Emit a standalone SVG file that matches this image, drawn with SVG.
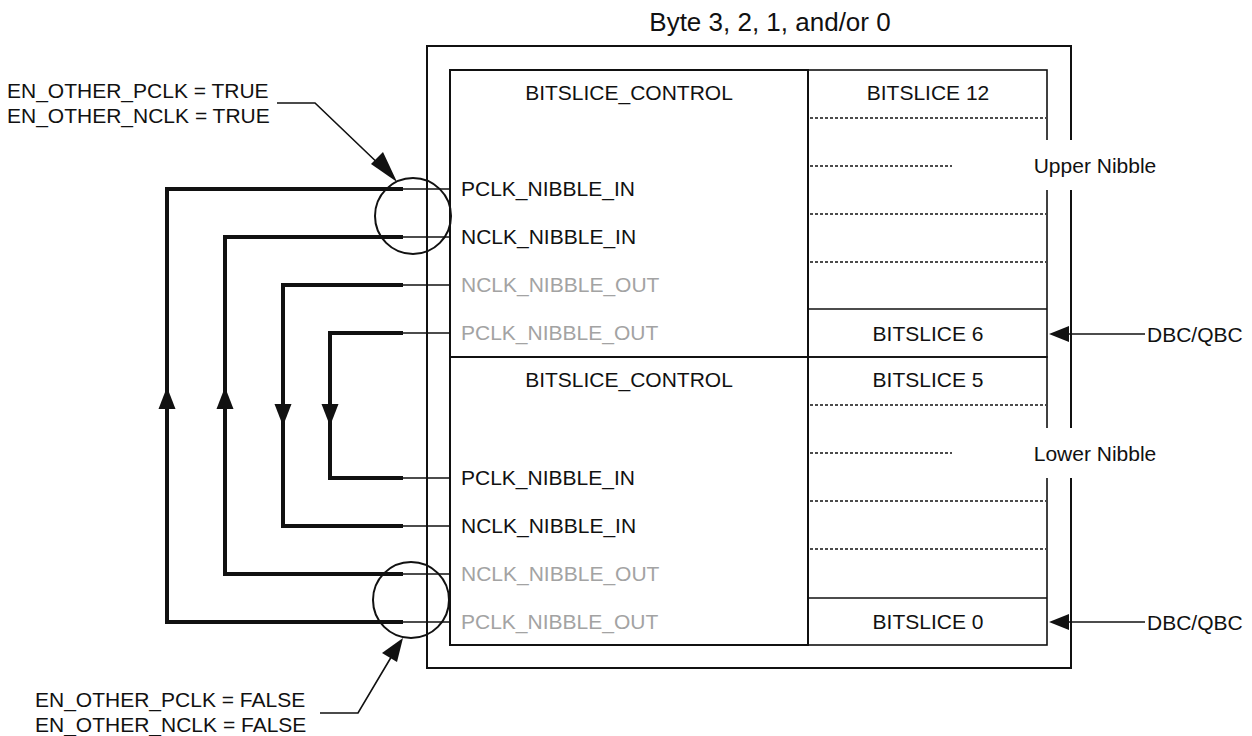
<svg xmlns="http://www.w3.org/2000/svg" width="1252" height="736" viewBox="0 0 1252 736">
<style>
  text { font-family: "Liberation Sans", Arial, sans-serif; font-size: 21px; fill: #111; }
  .gray { fill: #a3a3a3; }
  .mid { text-anchor: middle; }
  .box { fill: none; stroke: #111; stroke-width: 2; }
  .col { fill: none; stroke: #111; stroke-width: 1.6; }
  .dot { fill: none; stroke: #111; stroke-width: 1.3; stroke-dasharray: 3 2; }
  .thin { fill: none; stroke: #111; stroke-width: 1.6; }
  .thick { fill: none; stroke: #111; stroke-width: 4; stroke-linejoin: miter; }
  .ah { fill: #111; stroke: none; }
  .ring { fill: none; stroke: #111; stroke-width: 2; }
</style>

<g id="byte">
  <rect class="box" x="427" y="46" width="644" height="622"/>
  <text x="770" y="31" class="mid" style="font-size:26px">Byte 3, 2, 1, and/or 0</text>
</g>

<g id="control-upper">
  <rect class="box" x="450" y="70" width="358" height="287"/>
  <text x="629" y="100" class="mid">BITSLICE_CONTROL</text>
  <text x="461" y="196">PCLK_NIBBLE_IN</text>
  <text x="461" y="244">NCLK_NIBBLE_IN</text>
  <text x="461" y="292" class="gray">NCLK_NIBBLE_OUT</text>
  <text x="461" y="340" class="gray">PCLK_NIBBLE_OUT</text>
</g>

<g id="control-lower">
  <rect class="box" x="450" y="357" width="358" height="288"/>
  <text x="629" y="387" class="mid">BITSLICE_CONTROL</text>
  <text x="461" y="485">PCLK_NIBBLE_IN</text>
  <text x="461" y="533">NCLK_NIBBLE_IN</text>
  <text x="461" y="581" class="gray">NCLK_NIBBLE_OUT</text>
  <text x="461" y="629" class="gray">PCLK_NIBBLE_OUT</text>
</g>

<g id="bitslices-upper">
  <rect class="col" x="808" y="70" width="239" height="287"/>
  <line class="col" x1="808" y1="309" x2="1047" y2="309"/>
  <line class="dot" x1="810" y1="118" x2="1046" y2="118"/>
  <line class="dot" x1="810" y1="166" x2="952" y2="166"/>
  <line class="dot" x1="810" y1="214" x2="1046" y2="214"/>
  <line class="dot" x1="810" y1="262" x2="1046" y2="262"/>
  <text x="928" y="100" class="mid">BITSLICE 12</text>
  <text x="928" y="341" class="mid">BITSLICE 6</text>
</g>

<g id="bitslices-lower">
  <rect class="col" x="808" y="357" width="239" height="288"/>
  <line class="col" x1="808" y1="598" x2="1047" y2="598"/>
  <line class="dot" x1="810" y1="405" x2="1046" y2="405"/>
  <line class="dot" x1="810" y1="453" x2="952" y2="453"/>
  <line class="dot" x1="810" y1="501" x2="1046" y2="501"/>
  <line class="dot" x1="810" y1="549" x2="1046" y2="549"/>
  <text x="928" y="387" class="mid">BITSLICE 5</text>
  <text x="928" y="629" class="mid">BITSLICE 0</text>
</g>

<g id="upper-nibble">
  <rect x="1030" y="140" width="130" height="50" fill="#fff"/>
  <text x="1095" y="173" class="mid">Upper Nibble</text>
</g>

<g id="lower-nibble">
  <rect x="1030" y="428" width="130" height="50" fill="#fff"/>
  <text x="1095" y="461" class="mid">Lower Nibble</text>
</g>

<g id="dbc-upper">
  <text x="1147" y="342">DBC/QBC</text>
</g>
<g id="dbc-lower">
  <text x="1147" y="630">DBC/QBC</text>
</g>

<g id="label-true">
  <text x="7" y="98">EN_OTHER_PCLK = TRUE</text>
  <text x="7" y="123">EN_OTHER_NCLK = TRUE</text>
  <circle class="ring" cx="413" cy="216" r="38"/>
</g>

<g id="label-false">
  <text x="35" y="707">EN_OTHER_PCLK = FALSE</text>
  <text x="35" y="732">EN_OTHER_NCLK = FALSE</text>
  <circle class="ring" cx="411" cy="600" r="38"/>
</g>

<g id="connectors">
  <!-- thin pin stubs -->
  <line class="thin" x1="400" y1="189" x2="450" y2="189"/>
  <line class="thin" x1="400" y1="237" x2="450" y2="237"/>
  <line class="thin" x1="400" y1="285" x2="450" y2="285"/>
  <line class="thin" x1="400" y1="333" x2="450" y2="333"/>
  <line class="thin" x1="400" y1="478" x2="450" y2="478"/>
  <line class="thin" x1="400" y1="526" x2="450" y2="526"/>
  <line class="thin" x1="400" y1="574" x2="450" y2="574"/>
  <line class="thin" x1="400" y1="622" x2="450" y2="622"/>
  <!-- thick routes -->
  <polyline class="thick" points="403,622 167,622 167,189 403,189"/>
  <polyline class="thick" points="403,574 225,574 225,237 403,237"/>
  <polyline class="thick" points="403,285 283,285 283,526 403,526"/>
  <polyline class="thick" points="403,333 330,333 330,478 403,478"/>
  <!-- direction arrowheads -->
  <polygon class="ah" points="167,387 158.5,409 175.5,409"/>
  <polygon class="ah" points="225,387 216.5,409 233.5,409"/>
  <polygon class="ah" points="283,426 274.5,404 291.5,404"/>
  <polygon class="ah" points="330,426 321.5,404 338.5,404"/>
  <!-- callout leaders -->
  <polyline class="thin" points="277,103 315,103 385,170"/>
  <polygon class="ah" points="397,182 371,164 383,152"/>
  <polyline class="thin" points="320,713 358,713 393,654"/>
  <polygon class="ah" points="403,638 382,653 397,662"/>
  <!-- DBC/QBC inputs -->
  <line class="thin" x1="1066" y1="334" x2="1145" y2="334"/>
  <polygon class="ah" points="1049,334 1069,326 1069,342"/>
  <line class="thin" x1="1066" y1="622" x2="1145" y2="622"/>
  <polygon class="ah" points="1049,622 1069,614 1069,630"/>
</g>
</svg>
